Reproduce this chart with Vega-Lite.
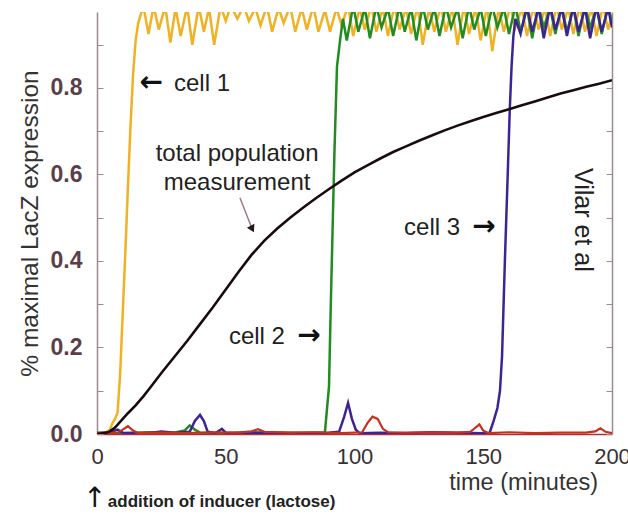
{
  "$schema": "https://vega.github.io/schema/vega-lite/v6.json",
  "autosize": "none",
  "width": 515,
  "height": 422,
  "padding": {"left": 97, "top": 12, "right": 16, "bottom": 81},
  "background": "white",
  "config": {"view": {"stroke": null}, "font": "Liberation Sans"},
  "datasets": {
    "one": [{}],
    "cell1": [
      {"t":0,"v":0},{"t":3,"v":0.002},{"t":5,"v":0.01},{"t":6,"v":0.025},{"t":7,"v":0.035},{"t":8,"v":0.05},{"t":9,"v":0.14},{"t":10,"v":0.28},{"t":11,"v":0.42},{"t":12,"v":0.57},{"t":13,"v":0.71},{"t":14,"v":0.83},{"t":15,"v":0.91},{"t":16,"v":0.95},{"t":18,"v":0.99},{"t":20,"v":0.925},{"t":22,"v":0.99},{"t":24,"v":0.935},{"t":26.5,"v":0.99},{"t":28.5,"v":0.905},{"t":30.5,"v":0.985},{"t":32.5,"v":0.92},{"t":35,"v":0.99},{"t":37,"v":0.9},{"t":39.5,"v":0.99},{"t":41.5,"v":0.93},{"t":43.5,"v":0.985},{"t":45.5,"v":0.9},{"t":48,"v":0.99},{"t":50,"v":0.955},{"t":52,"v":0.99},{"t":54.5,"v":0.96},{"t":57,"v":0.99},{"t":59,"v":0.955},{"t":61.5,"v":0.985},{"t":63.5,"v":0.945},{"t":66,"v":0.99},{"t":68,"v":0.93},{"t":70.5,"v":0.985},{"t":72.5,"v":0.95},{"t":75,"v":0.99},{"t":77,"v":0.93},{"t":79.5,"v":0.985},{"t":81.5,"v":0.935},{"t":84,"v":0.99},{"t":86,"v":0.93},{"t":88.5,"v":0.98},{"t":90.5,"v":0.93},{"t":93,"v":0.985},{"t":95,"v":0.945},{"t":97.5,"v":0.99},{"t":99.5,"v":0.92},{"t":102,"v":0.985},{"t":104,"v":0.935},{"t":106.5,"v":0.99},{"t":108.5,"v":0.93},{"t":111,"v":0.985},{"t":113,"v":0.92},{"t":115.5,"v":0.99},{"t":117.5,"v":0.935},{"t":120,"v":0.985},{"t":122,"v":0.925},{"t":124.5,"v":0.99},{"t":126.5,"v":0.9},{"t":129,"v":0.985},{"t":131,"v":0.93},{"t":133.5,"v":0.99},{"t":135.5,"v":0.93},{"t":138,"v":0.985},{"t":140,"v":0.9},{"t":142.5,"v":0.99},{"t":144.5,"v":0.925},{"t":147,"v":0.985},{"t":149,"v":0.91},{"t":151.5,"v":0.99},{"t":153.5,"v":0.885},{"t":156,"v":0.985},{"t":158,"v":0.93},{"t":160.5,"v":0.99},{"t":162.5,"v":0.94},{"t":165,"v":0.985},{"t":167,"v":0.92},{"t":169.5,"v":0.99},{"t":171.5,"v":0.935},{"t":174,"v":0.985},{"t":176,"v":0.92},{"t":178.5,"v":0.99},{"t":180.5,"v":0.935},{"t":183,"v":0.985},{"t":185,"v":0.925},{"t":187.5,"v":0.99},{"t":189.5,"v":0.93},{"t":192,"v":0.985},{"t":194,"v":0.92},{"t":196.5,"v":0.99},{"t":198.5,"v":0.935},{"t":200,"v":0.97}
    ],
    "cell2": [
      {"t":0,"v":0.003},{"t":10,"v":0.002},{"t":20,"v":0.004},{"t":30,"v":0.003},{"t":34,"v":0.008},{"t":36,"v":0.02},{"t":38,"v":0.01},{"t":40,"v":0.003},{"t":50,"v":0.002},{"t":60,"v":0.004},{"t":70,"v":0.002},{"t":80,"v":0.003},{"t":88.5,"v":0.003},{"t":89.2,"v":0.05},{"t":90.1,"v":0.11},{"t":90.8,"v":0.3},{"t":91.3,"v":0.425},{"t":92.2,"v":0.65},{"t":93.2,"v":0.85},{"t":94.4,"v":0.91},{"t":95.5,"v":0.96},{"t":97,"v":0.91},{"t":99.5,"v":0.99},{"t":101.5,"v":0.93},{"t":104,"v":0.985},{"t":106,"v":0.915},{"t":108.5,"v":0.99},{"t":110.5,"v":0.94},{"t":113,"v":0.985},{"t":115,"v":0.92},{"t":117.5,"v":0.99},{"t":119.5,"v":0.93},{"t":122,"v":0.985},{"t":124,"v":0.91},{"t":126.5,"v":0.99},{"t":128.5,"v":0.935},{"t":131,"v":0.985},{"t":133,"v":0.92},{"t":135.5,"v":0.99},{"t":137.5,"v":0.94},{"t":140,"v":0.985},{"t":142,"v":0.915},{"t":144.5,"v":0.99},{"t":146.5,"v":0.935},{"t":149,"v":0.985},{"t":151,"v":0.92},{"t":153.5,"v":0.99},{"t":155.5,"v":0.94},{"t":158,"v":0.985},{"t":160,"v":0.925},{"t":162.5,"v":0.99},{"t":164.5,"v":0.93},{"t":167,"v":0.985},{"t":169,"v":0.915},{"t":171.5,"v":0.99},{"t":173.5,"v":0.94},{"t":176,"v":0.985},{"t":178,"v":0.925},{"t":180.5,"v":0.99},{"t":182.5,"v":0.93},{"t":185,"v":0.985},{"t":187,"v":0.92},{"t":189.5,"v":0.99},{"t":191.5,"v":0.94},{"t":194,"v":0.985},{"t":196,"v":0.925},{"t":198.5,"v":0.99},{"t":200,"v":0.95}
    ],
    "cell3": [
      {"t":0,"v":0.002},{"t":5,"v":0.004},{"t":8,"v":0.01},{"t":10,"v":0.003},{"t":20,"v":0.002},{"t":25,"v":0.006},{"t":30,"v":0.003},{"t":36,"v":0.005},{"t":38,"v":0.03},{"t":40,"v":0.044},{"t":41.5,"v":0.03},{"t":43,"v":0.005},{"t":46,"v":0.002},{"t":48.5,"v":0.012},{"t":50,"v":0.003},{"t":60,"v":0.002},{"t":70,"v":0.003},{"t":80,"v":0.002},{"t":90,"v":0.003},{"t":94,"v":0.005},{"t":96,"v":0.04},{"t":97.5,"v":0.072},{"t":99,"v":0.035},{"t":100.5,"v":0.01},{"t":102,"v":0.002},{"t":110,"v":0.003},{"t":120,"v":0.002},{"t":130,"v":0.004},{"t":140,"v":0.003},{"t":150,"v":0.002},{"t":152.5,"v":0.003},{"t":154,"v":0.03},{"t":155.5,"v":0.06},{"t":156.5,"v":0.1},{"t":157.3,"v":0.18},{"t":158.4,"v":0.4},{"t":159.5,"v":0.6},{"t":160.3,"v":0.75},{"t":161,"v":0.85},{"t":161.7,"v":0.92},{"t":162.5,"v":0.96},{"t":164.5,"v":0.925},{"t":167,"v":0.99},{"t":169,"v":0.93},{"t":171.5,"v":0.985},{"t":173.5,"v":0.915},{"t":176,"v":0.99},{"t":178,"v":0.935},{"t":180.5,"v":0.985},{"t":182.5,"v":0.92},{"t":185,"v":0.99},{"t":187,"v":0.93},{"t":189.5,"v":0.985},{"t":191.5,"v":0.915},{"t":194,"v":0.99},{"t":196,"v":0.93},{"t":198.5,"v":0.985},{"t":200,"v":0.94}
    ],
    "cell4": [
      {"t":0,"v":0.002},{"t":8,"v":0.003},{"t":10,"v":0.01},{"t":12,"v":0.018},{"t":14,"v":0.008},{"t":16,"v":0.002},{"t":25,"v":0.003},{"t":35,"v":0.002},{"t":45,"v":0.004},{"t":55,"v":0.003},{"t":60,"v":0.006},{"t":62.5,"v":0.011},{"t":65,"v":0.005},{"t":75,"v":0.003},{"t":85,"v":0.004},{"t":95,"v":0.002},{"t":103,"v":0.004},{"t":105,"v":0.025},{"t":107,"v":0.04},{"t":109,"v":0.035},{"t":111,"v":0.012},{"t":113,"v":0.004},{"t":120,"v":0.003},{"t":130,"v":0.004},{"t":140,"v":0.003},{"t":145,"v":0.005},{"t":147,"v":0.015},{"t":148.5,"v":0.022},{"t":150,"v":0.008},{"t":152,"v":0.002},{"t":160,"v":0.004},{"t":170,"v":0.002},{"t":180,"v":0.003},{"t":190,"v":0.003},{"t":193.5,"v":0.006},{"t":195.5,"v":0.013},{"t":197.5,"v":0.005},{"t":200,"v":0.002}
    ],
    "total": [
      {"t":0,"v":0},{"t":3,"v":0.002},{"t":5,"v":0.006},{"t":7,"v":0.015},{"t":10,"v":0.035},{"t":12,"v":0.048},{"t":15,"v":0.066},{"t":18,"v":0.087},{"t":21,"v":0.11},{"t":25,"v":0.141},{"t":30,"v":0.178},{"t":35,"v":0.215},{"t":40,"v":0.254},{"t":45,"v":0.293},{"t":50,"v":0.334},{"t":55,"v":0.375},{"t":60,"v":0.414},{"t":65,"v":0.447},{"t":70,"v":0.475},{"t":75,"v":0.5},{"t":80,"v":0.523},{"t":85,"v":0.545},{"t":90,"v":0.566},{"t":95,"v":0.586},{"t":100,"v":0.605},{"t":105,"v":0.621},{"t":110,"v":0.637},{"t":115,"v":0.652},{"t":120,"v":0.665},{"t":125,"v":0.678},{"t":130,"v":0.69},{"t":135,"v":0.702},{"t":140,"v":0.713},{"t":145,"v":0.723},{"t":150,"v":0.733},{"t":155,"v":0.742},{"t":160,"v":0.751},{"t":165,"v":0.76},{"t":170,"v":0.769},{"t":175,"v":0.778},{"t":180,"v":0.787},{"t":185,"v":0.795},{"t":190,"v":0.803},{"t":195,"v":0.81},{"t":200,"v":0.818}
    ]
  },
  "layer": [
    {
      "data": {"name": "cell1"},
      "mark": {"type": "line", "color": "#f0b224", "strokeWidth": 2.5, "clip": true},
      "encoding": {
        "x": {"field": "t", "type": "quantitative", "scale": {"domain": [0, 200], "nice": false},
          "axis": {"values": [0, 50, 100, 150, 200], "ticks": false, "grid": false, "title": null, "labelFlush": false,
            "labelFontSize": 22, "labelColor": "#3a3032", "labelPadding": 12,
            "domainColor": "#a8323a", "domainWidth": 1.5}},
        "y": {"field": "v", "type": "quantitative", "scale": {"domain": [0, 0.9757], "nice": false, "zero": false},
          "axis": {"orient": "left", "values": [0, 0.1, 0.2, 0.3, 0.4, 0.5, 0.6, 0.7, 0.8, 0.9],
            "labelExpr": "round(datum.value*10)%2==0 ? format(datum.value, '.1f') : ''",
            "labelFontSize": 23, "labelFontWeight": "bold", "labelColor": "#5a3f4a", "labelPadding": 21,
            "tickSize": -6, "tickColor": "#9a8a92", "domainColor": "#9a8a92", "domainWidth": 1.5, "grid": false,
            "title": "% maximal LacZ expression", "titleFontSize": 24.5, "titleFontWeight": "normal",
            "titleColor": "#333333", "titlePadding": 8}}
      }
    },
    {
      "data": {"name": "cell2"},
      "mark": {"type": "line", "color": "#228b22", "strokeWidth": 2.5, "clip": true},
      "encoding": {
        "x": {"field": "t", "type": "quantitative"},
        "y": {"field": "v", "type": "quantitative", "scale": {"domain": [0, 0.9757], "nice": false, "zero": false},
          "axis": {"orient": "right", "values": [0, 0.1, 0.2, 0.3, 0.4, 0.5, 0.6, 0.7, 0.8, 0.9], "labels": false,
            "tickSize": -6, "tickColor": "#9a8a92", "domainColor": "#9a8a92", "domainWidth": 1.5, "grid": false, "title": null}}
      }
    },
    {
      "data": {"name": "cell3"},
      "mark": {"type": "line", "color": "#3c2592", "strokeWidth": 2.5, "clip": true},
      "encoding": {
        "x": {"field": "t", "type": "quantitative"},
        "y": {"field": "v", "type": "quantitative", "scale": {"domain": [0, 0.9757], "nice": false, "zero": false}, "axis": null}
      }
    },
    {
      "data": {"name": "cell4"},
      "mark": {"type": "line", "color": "#c8301e", "strokeWidth": 2.2, "clip": true},
      "encoding": {
        "x": {"field": "t", "type": "quantitative"},
        "y": {"field": "v", "type": "quantitative", "scale": {"domain": [0, 0.9757], "nice": false, "zero": false}, "axis": null}
      }
    },
    {
      "data": {"name": "total"},
      "mark": {"type": "line", "color": "#1a0c0e", "strokeWidth": 2.6, "clip": true},
      "encoding": {
        "x": {"field": "t", "type": "quantitative"},
        "y": {"field": "v", "type": "quantitative", "scale": {"domain": [0, 0.9757], "nice": false, "zero": false}, "axis": null}
      }
    },
    {
      "data": {"name": "one"},
      "mark": {"type": "rule", "color": "#a07890", "strokeWidth": 1.5},
      "encoding": {
        "x": {"datum": 55.5}, "y": {"datum": 0.546, "scale": {"domain": [0, 0.9757], "nice": false, "zero": false}, "axis": null},
        "x2": {"datum": 60.2}, "y2": {"datum": 0.475}
      }
    },
    {
      "data": {"name": "one"},
      "mark": {"type": "point", "shape": "triangle-down", "filled": true, "color": "#2a1420", "size": 70, "angle": 333, "opacity": 1},
      "encoding": {"x": {"datum": 60.3}, "y": {"datum": 0.474, "scale": {"domain": [0, 0.9757], "nice": false, "zero": false}, "axis": null}}
    },
    {
      "data": {"name": "one"},
      "mark": {"type": "text", "text": "←", "font": "DejaVu Sans", "fontWeight": "bold", "align": "left", "baseline": "middle", "fontSize": 28, "color": "#111111"},
      "encoding": {"x": {"datum": 16.5}, "y": {"datum": 0.811, "scale": {"domain": [0, 0.9757], "nice": false, "zero": false}, "axis": null}}
    },
    {
      "data": {"name": "one"},
      "mark": {"type": "text", "text": "cell 1", "align": "left", "baseline": "middle", "fontSize": 24, "color": "#222222"},
      "encoding": {"x": {"datum": 29.9}, "y": {"datum": 0.809, "scale": {"domain": [0, 0.9757], "nice": false, "zero": false}, "axis": null}}
    },
    {
      "data": {"name": "one"},
      "mark": {"type": "text", "text": ["total population", "measurement"], "align": "center", "baseline": "middle", "fontSize": 24, "lineHeight": 29, "color": "#222222"},
      "encoding": {"x": {"datum": 54.4}, "y": {"datum": 0.647, "scale": {"domain": [0, 0.9757], "nice": false, "zero": false}, "axis": null}}
    },
    {
      "data": {"name": "one"},
      "mark": {"type": "text", "text": "cell 2", "align": "right", "baseline": "middle", "fontSize": 24, "color": "#222222"},
      "encoding": {"x": {"datum": 73.0}, "y": {"datum": 0.224, "scale": {"domain": [0, 0.9757], "nice": false, "zero": false}, "axis": null}}
    },
    {
      "data": {"name": "one"},
      "mark": {"type": "text", "text": "→", "font": "DejaVu Sans", "fontWeight": "bold", "align": "center", "baseline": "middle", "fontSize": 28, "color": "#111111"},
      "encoding": {"x": {"datum": 82.3}, "y": {"datum": 0.226, "scale": {"domain": [0, 0.9757], "nice": false, "zero": false}, "axis": null}}
    },
    {
      "data": {"name": "one"},
      "mark": {"type": "text", "text": "cell 3", "align": "right", "baseline": "middle", "fontSize": 24, "color": "#222222"},
      "encoding": {"x": {"datum": 141.0}, "y": {"datum": 0.476, "scale": {"domain": [0, 0.9757], "nice": false, "zero": false}, "axis": null}}
    },
    {
      "data": {"name": "one"},
      "mark": {"type": "text", "text": "→", "font": "DejaVu Sans", "fontWeight": "bold", "align": "center", "baseline": "middle", "fontSize": 28, "color": "#111111"},
      "encoding": {"x": {"datum": 150.3}, "y": {"datum": 0.478, "scale": {"domain": [0, 0.9757], "nice": false, "zero": false}, "axis": null}}
    },
    {
      "data": {"name": "one"},
      "mark": {"type": "text", "text": "Vilar et al", "align": "center", "baseline": "middle", "fontSize": 25, "angle": 90, "color": "#222222"},
      "encoding": {"x": {"datum": 188.7}, "y": {"datum": 0.495, "scale": {"domain": [0, 0.9757], "nice": false, "zero": false}, "axis": null}}
    },
    {
      "data": {"name": "one"},
      "mark": {"type": "text", "text": "time (minutes)", "align": "right", "baseline": "middle", "fontSize": 23.5, "color": "#333333"},
      "encoding": {"x": {"datum": 194.6}, "y": {"datum": -0.113, "scale": {"domain": [0, 0.9757], "nice": false, "zero": false}, "axis": null}}
    },
    {
      "data": {"name": "one"},
      "mark": {"type": "text", "text": "↑", "font": "DejaVu Sans", "align": "center", "baseline": "middle", "fontSize": 28, "color": "#111111"},
      "encoding": {"x": {"datum": -0.9}, "y": {"datum": -0.151, "scale": {"domain": [0, 0.9757], "nice": false, "zero": false}, "axis": null}}
    },
    {
      "data": {"name": "one"},
      "mark": {"type": "text", "text": "addition of inducer (lactose)", "align": "left", "baseline": "middle", "fontSize": 17, "fontWeight": "bold", "color": "#222222"},
      "encoding": {"x": {"datum": 4.2}, "y": {"datum": -0.157, "scale": {"domain": [0, 0.9757], "nice": false, "zero": false}, "axis": null}}
    }
  ],
  "resolve": {"scale": {"y": "independent"}, "axis": {"y": "independent"}}
}
